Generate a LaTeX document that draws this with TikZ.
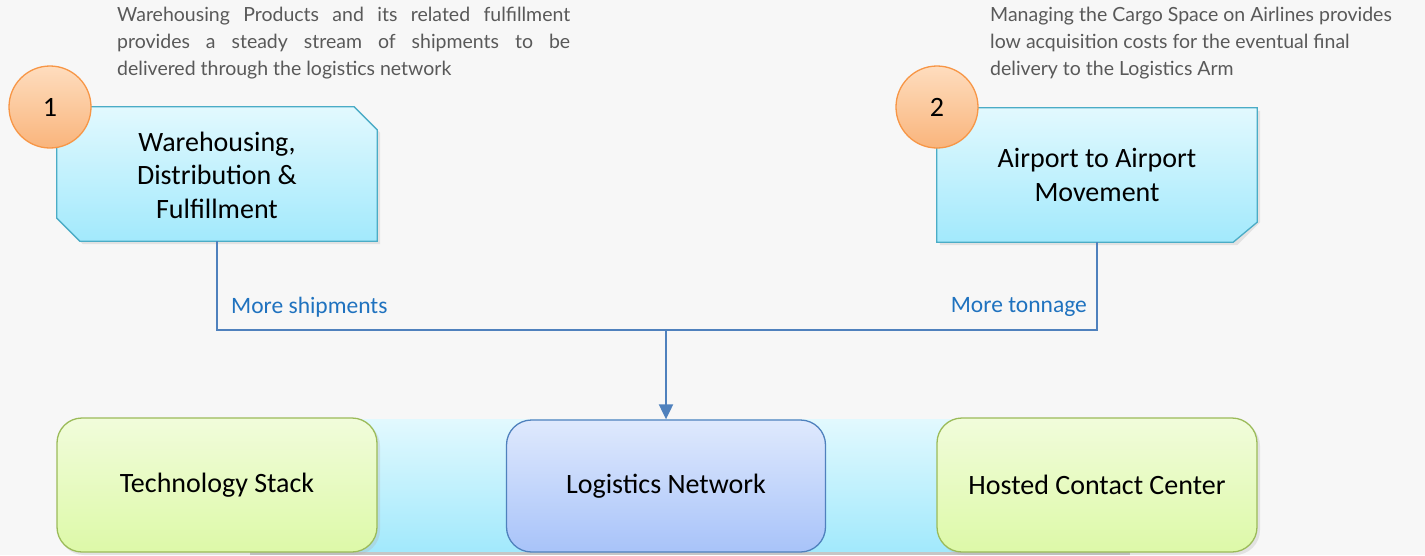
\documentclass[tikz,border=0pt]{standalone}
\usepackage{fontspec}
\setmainfont{Carlito}
\newfontfamily\descfont{Lato}
\usetikzlibrary{arrows.meta}
\definecolor{bgc}{HTML}{F7F7F7}
\definecolor{cyantop}{HTML}{E2F9FE}
\definecolor{cyanbot}{HTML}{A2E9FC}
\definecolor{cyanline}{HTML}{4BACC6}
\definecolor{greentop}{HTML}{F1FCDB}
\definecolor{greenbot}{HTML}{DDF9A8}
\definecolor{greenline}{HTML}{9BBB59}
\definecolor{bluetop}{HTML}{DFE9FD}
\definecolor{bluebot}{HTML}{A8C3F9}
\definecolor{blueline}{HTML}{4F81BD}
\definecolor{orangetop}{HTML}{FEDDBE}
\definecolor{orangebot}{HTML}{F9B47C}
\definecolor{orangeline}{HTML}{F79646}
\definecolor{labelblue}{HTML}{1F72BF}
\definecolor{desc}{HTML}{595959}
\tikzset{
  x=1pt,y=-1pt,
  toptext/.style={rectangle, minimum width=320pt, minimum height=134pt, inner sep=0pt,
    align=center, font=\fontsize{28}{33.5}\selectfont},
  topfill/.style={top color=cyantop, bottom color=cyanbot, draw=cyanline, line width=1.3pt},
  boxshadow/.style={fill=black!30, opacity=0.3},
  basebox/.style={rounded corners=25pt, minimum width=320pt, minimum height=134pt,
    inner sep=0pt, line width=1.3pt, align=center, font=\fontsize{28}{30}\selectfont},
  greenbox/.style={basebox, top color=greentop, bottom color=greenbot, draw=greenline},
  bluebox/.style={basebox, top color=bluetop, bottom color=bluebot, draw=blueline},
  numdisc/.style={circle, minimum size=82pt, inner sep=0pt, top color=orangetop,
    bottom color=orangebot, draw=orangeline, line width=1.3pt,
    font=\fontsize{28}{30}\selectfont},
  conn/.style={draw=blueline, line width=2pt},
  flowlabel/.style={text=labelblue, font=\fontsize{23.5}{26}\selectfont, inner sep=0pt},
  desctext/.style={text=desc, font=\descfont\fontsize{19.5}{27}\selectfont, inner sep=0pt, align=left},
}
\begin{document}
\begin{tikzpicture}
\useasboundingbox (0,0) rectangle (1425,555);
\fill[bgc] (0,0) rectangle (1425,555);
% description texts
\node[desctext, anchor=north west] (d1) at (117,7)
  {\makebox[453pt][s]{Warehousing Products and its related fulfillment}\\
   \makebox[453pt][s]{provides a steady stream of shipments to be}\\
   delivered through the logistics network};
\node[desctext, anchor=north west] (d2) at (990,7)
  {Managing the Cargo Space on Airlines provides\\
   low acquisition costs for the eventual final\\
   delivery to the Logistics Arm};
% bottom band
\fill[black!35, opacity=0.6] (250,548) rectangle (1130,555);
\shade[top color=cyantop, bottom color=cyanbot] (120,419) rectangle (1200,551);
% shadows of bottom boxes
\fill[boxshadow, rounded corners=25pt] (59,421) rectangle (380,555);
\fill[boxshadow, rounded corners=25pt] (939,421) rectangle (1260,555);
% top boxes (text nodes)
\node[toptext] (b1) at (217,174) {};
\node[toptext] (b2) at (1097,175) {};
% shadows of top boxes
\fill[boxshadow] ([shift={(3pt,-3pt)}]b1.north west) -- ([shift={(-20pt,-3pt)}]b1.north east)
  -- ([shift={(3pt,-26pt)}]b1.north east) -- ([shift={(3pt,-3pt)}]b1.south east)
  -- ([shift={(26pt,-3pt)}]b1.south west) -- ([shift={(3pt,20pt)}]b1.south west) -- cycle;
\fill[boxshadow] ([shift={(3pt,-3pt)}]b2.north west) -- ([shift={(3pt,-3pt)}]b2.north east)
  -- ([shift={(3pt,20pt)}]b2.south east) -- ([shift={(-20pt,-3pt)}]b2.south east)
  -- ([shift={(3pt,-3pt)}]b2.south west) -- cycle;
% top boxes outlines
\path[topfill] (b1.north west) -- ([xshift=-23pt]b1.north east) -- ([yshift=-23pt]b1.north east)
  -- (b1.south east) -- ([xshift=23pt]b1.south west) -- ([yshift=23pt]b1.south west) -- cycle;
\path[topfill] (b2.north west) -- (b2.north east) -- ([yshift=20pt]b2.south east)
  -- ([xshift=-24pt]b2.south east) -- (b2.south west) -- cycle;
\node[toptext] at ([yshift=-1pt]b1.center) {Warehousing,\\Distribution \&\\Fulfillment};
\node[toptext] at (b2.center) {Airport to Airport\\Movement};
% number discs
\node[numdisc] (n1) at (50,107) {1};
\node[numdisc] (n2) at (937,107) {2};
% bottom boxes
\node[greenbox] (tech) at (217,485) {Technology Stack};
\node[bluebox, minimum width=319pt, minimum height=132pt] (lnet) at (666,486) {Logistics Network};
\node[greenbox] (hcc) at (1097,485) {Hosted Contact Center};
% connectors
\coordinate (j) at (666,330);
\draw[conn] (b1.south) |- (j);
\draw[conn] (b2.south) |- (j);
\draw[conn, -{Triangle[width=14pt,length=15pt]}] (j) -- (lnet.north);
% labels
\node[flowlabel, anchor=west] (l1) at (231,307) {More shipments};
\node[flowlabel, anchor=east] (l2) at (1087,307) {More tonnage};
\end{tikzpicture}
\end{document}
